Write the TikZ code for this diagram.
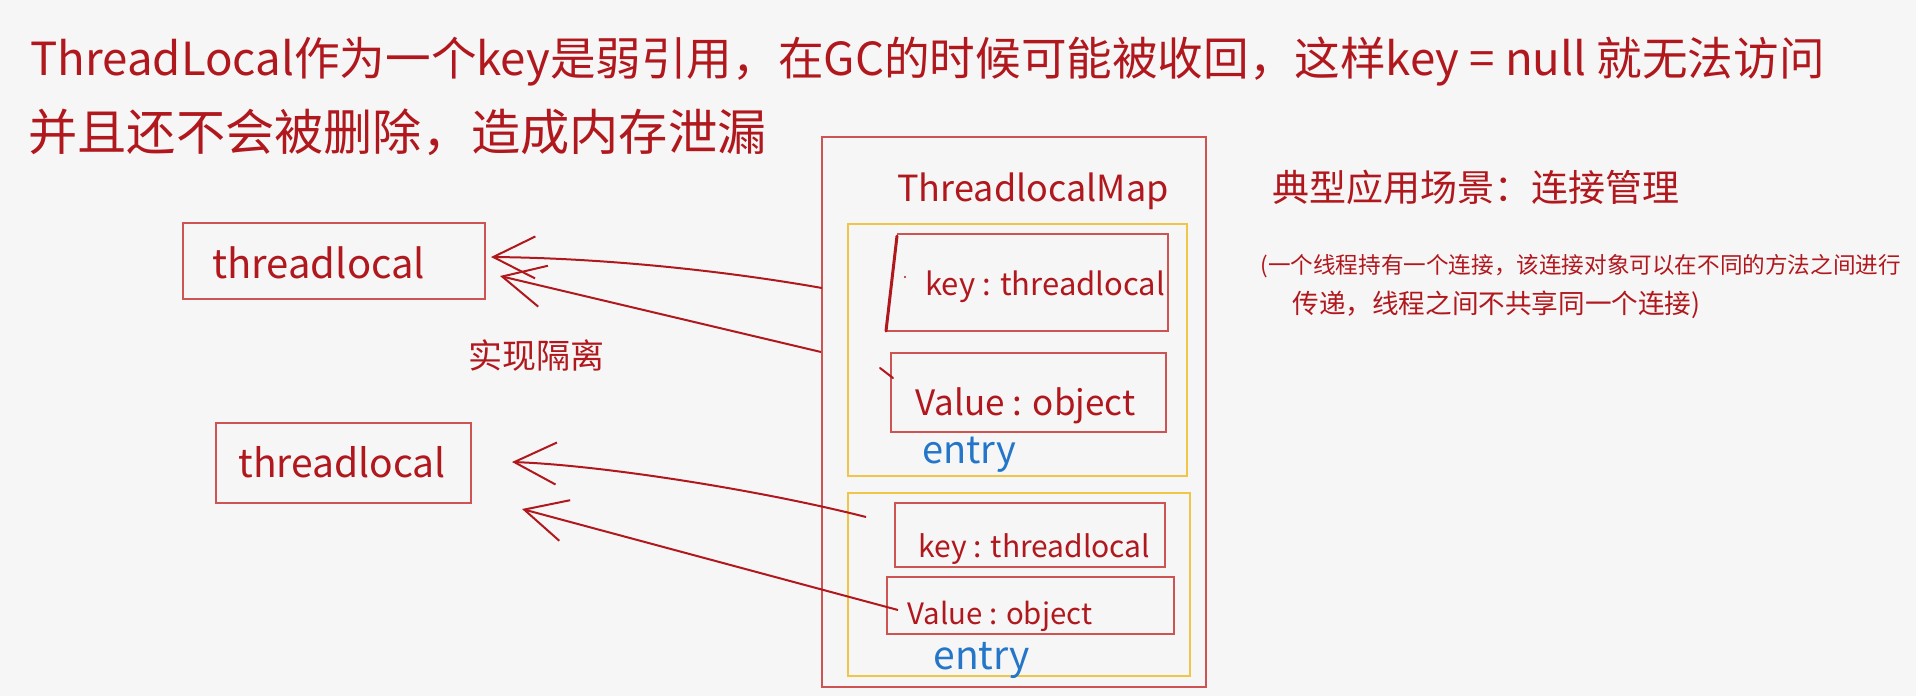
\documentclass[tikz,border=0pt]{standalone}
\usepackage{fontspec}
\setmainfont{Noto Sans CJK SC}
\usetikzlibrary{arrows.meta,fit}
\definecolor{bgc}{RGB}{246,246,246}
\definecolor{inkred}{RGB}{176,24,30}
\definecolor{boxred}{RGB}{206,84,84}
\definecolor{yel}{RGB}{240,198,72}
\definecolor{blu}{RGB}{36,118,200}
\newcommand\fsz[1]{\fontsize{#1}{#1}\selectfont}
\begin{document}
\begin{tikzpicture}[x=0.5pt,y=-0.5pt,
  redbox/.style={draw=boxred,line width=1.4pt,inner sep=0pt},
  yelbox/.style={draw=yel,line width=1.2pt,inner sep=0pt},
  handtext/.style={text=inkred,inner sep=0pt},
  bluetext/.style={text=blu,inner sep=0pt},
  arr/.style={draw=inkred,line width=1pt,-{Straight Barb[length=21pt,width=21pt,line width=1pt]}},
  inkline/.style={draw=inkred,line width=1pt,line cap=round}]
\fill[bgc] (0,0) rectangle (1916,696);
\useasboundingbox (0,0) rectangle (1916,696);

% title
\node[handtext,anchor=base west,font=\fsz{22.8}] (title1) at (30,75)
  {ThreadLocal作为一个key是弱引用，在GC的时候可能被收回，这样key = null 就无法访问};
\node[handtext,anchor=base west,font=\fsz{24.6}] (title2) at (28,150)
  {并且还不会被删除，造成内存泄漏};

% left boxes
\node[redbox,fit={(183,223) (485,299)}] (tl1) {};
\node[handtext,anchor=base west,font=\fsz{20}] (tl1t) at (212,278) {threadlocal};
\node[redbox,fit={(216,423) (471,503)}] (tl2) {};
\node[handtext,anchor=base west,font=\fsz{19.5}] (tl2t) at (238,477) {threadlocal};
\node[handtext,font=\fsz{17}] (iso) at (536,356) {实现隔离};

% map
\node[redbox,fit={(822,137) (1206,687)}] (map) {};
\node[handtext,anchor=base west,font=\fsz{18}] (mapt) at (897,201) {ThreadlocalMap};

% entry 1
\node[yelbox,fit={(848,224) (1187,476)}] (e1) {};
\draw[redbox] (897,234) -- (1168,234) -- (1168,331) -- (886,331);
\node[inner sep=0pt,fit={(886,234) (1168,331)}] (k1) {};
\draw[inkred,line width=1.5pt,line cap=round] (897,236) -- (886,331);
\fill[inkred] (905,277) circle (1.2);
\node[handtext,anchor=base west,font=\fsz{15.5}] (k1t) at (925,295) {key : threadlocal};
\node[redbox,fit={(891,353) (1166,432)}] (v1) {};
\node[handtext,anchor=base west,font=\fsz{17.5}] (v1t) at (915,415) {Value : object};
\draw[inkline] (880,368) -- (893,378);
\node[bluetext,anchor=base west,font=\fsz{19}] (e1t) at (922,463) {entry};

% entry 2
\node[yelbox,fit={(848,493) (1190,676)}] (e2) {};
\node[redbox,fit={(895,503) (1165,567)}] (k2) {};
\node[handtext,anchor=base west,font=\fsz{15}] (k2t) at (918,557) {key : threadlocal};
\node[redbox,fit={(887,577) (1174,634)}] (v2) {};
\node[handtext,anchor=base west,font=\fsz{14.7}] (v2t) at (907,624) {Value : object};
\node[bluetext,anchor=base west,font=\fsz{19.5}] (e2t) at (933,669) {entry};

% arrows
\coordinate (s1) at (822,288);
\coordinate (t1) at (491,257);
\coordinate (s2) at (821,352);
\coordinate (t2) at (500,276);
\coordinate (s3) at (866,517);
\coordinate (t3) at (512,462);
\coordinate (s4) at (898,610);
\coordinate (t4) at (522,509);
\draw[arr] (s1) .. controls (720,270) and (600,258) .. (t1);
\draw[arr] (s2) -- (t2);
\draw[arr] (s3) .. controls (760,490) and (600,465) .. (t3);
\draw[arr] (s4) -- (t4);

% right notes
\node[handtext,anchor=base west,font=\fsz{18.5}] (app) at (1272,201) {典型应用场景：连接管理};
\node[handtext,anchor=base west,font=\fsz{11.3}] (note1) at (1260,273)
  {(一个线程持有一个连接，该连接对象可以在不同的方法之间进行};
\node[handtext,anchor=base west,font=\fsz{13.3}] (note2) at (1292,313)
  {传递，线程之间不共享同一个连接)};
\end{tikzpicture}
\end{document}
